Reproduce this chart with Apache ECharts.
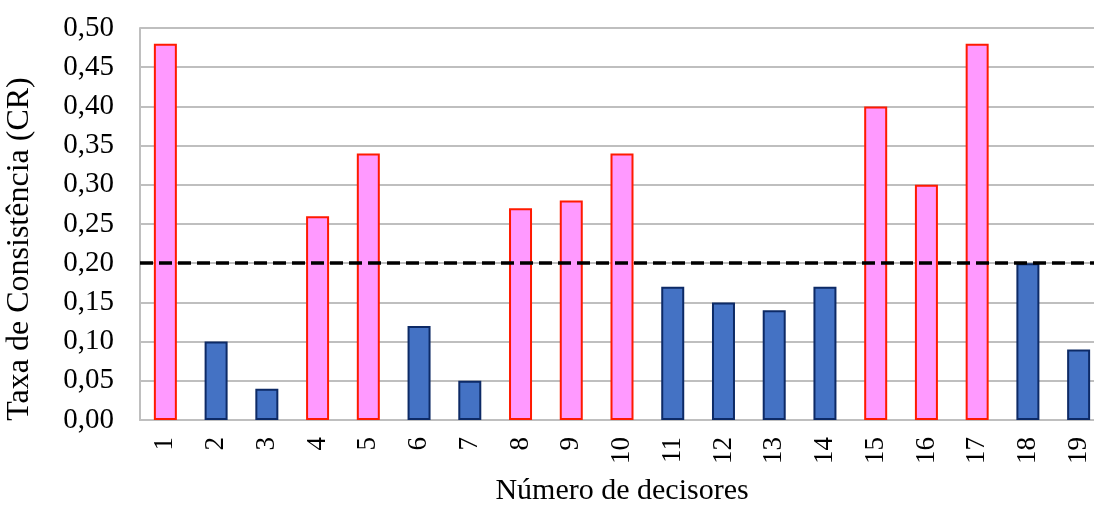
<!DOCTYPE html>
<html>
<head>
<meta charset="utf-8">
<script src="https://cdn.jsdelivr.net/npm/echarts@6/dist/echarts.min.js"></script>
<style>
  html, body { margin: 0; padding: 0; background: #fff; }
  #chart { width: 1094px; height: 507px; }
</style>
</head>
<body>
<div id="chart"></div>
<script>
// decisores e taxa de consistência
const decisores = ['1', '2', '3', '4', '5', '6', '7', '8', '9', '10', '11', '12', '13', '14', '15', '16', '17', '18', '19'];
const taxaCR = [0.48, 0.10, 0.04, 0.26, 0.34, 0.12, 0.05, 0.27, 0.28, 0.34, 0.17, 0.15, 0.14, 0.17, 0.40, 0.30, 0.48, 0.20, 0.09];
const limite = 0.2;

const fonte = '"Liberation Serif", "Times New Roman", serif';

const chart = echarts.init(document.getElementById('chart'));

// acima do limite: rosa com borda vermelha, senão azul
const dados = taxaCR.map(v => ({
    value: v,
    itemStyle: v > limite
        ? { color: '#FF99FF', borderColor: '#FF1A00', borderWidth: 2 }
        : { color: '#4472C4', borderColor: '#0D2A66', borderWidth: 2 }
}));

const option = {
    animation: false,
    grid: { left: 140, right: -10, top: 28, bottom: 87, outerBoundsMode: 'none', containLabel: false },
    xAxis: {
        type: 'category',
        data: decisores,
        name: 'Número de decisores',
        nameLocation: 'middle',
        nameGap: 56,
        nameTextStyle: { fontFamily: fonte, fontSize: 30, color: '#000' },
        axisLine: { lineStyle: { color: '#bfbfbf', width: 2 } },
        axisTick: { show: false },
        axisLabel: { rotate: 90, fontFamily: fonte, fontSize: 27, color: '#000', margin: 17 }
    },
    yAxis: {
        type: 'value',
        min: 0,
        max: 0.5,
        interval: 0.05,
        name: 'Taxa de Consistência (CR)',
        nameLocation: 'middle',
        nameGap: 104,
        // o título fica um pouco abaixo do centro do eixo
        nameTextStyle: { fontFamily: fonte, fontSize: 32, color: '#000', padding: [0, 50, 0, 0] },
        axisLine: { show: true, lineStyle: { color: '#bfbfbf', width: 2 } },
        axisTick: { show: false },
        splitLine: { lineStyle: { color: '#bfbfbf', width: 2 } },
        axisLabel: {
            fontFamily: fonte, fontSize: 29, color: '#000', margin: 26,
            formatter: v => v.toFixed(2).replace('.', ',')
        }
    },
    series: [{
        type: 'bar',
        data: dados,
        barWidth: 23,
        markLine: {
            silent: true,
            symbol: 'none',
            label: { show: false },
            lineStyle: { color: '#000', type: [13, 6], width: 3.5 },
            data: [{ yAxis: limite }]
        }
    }]
};

chart.setOption(option);
</script>
</body>
</html>
